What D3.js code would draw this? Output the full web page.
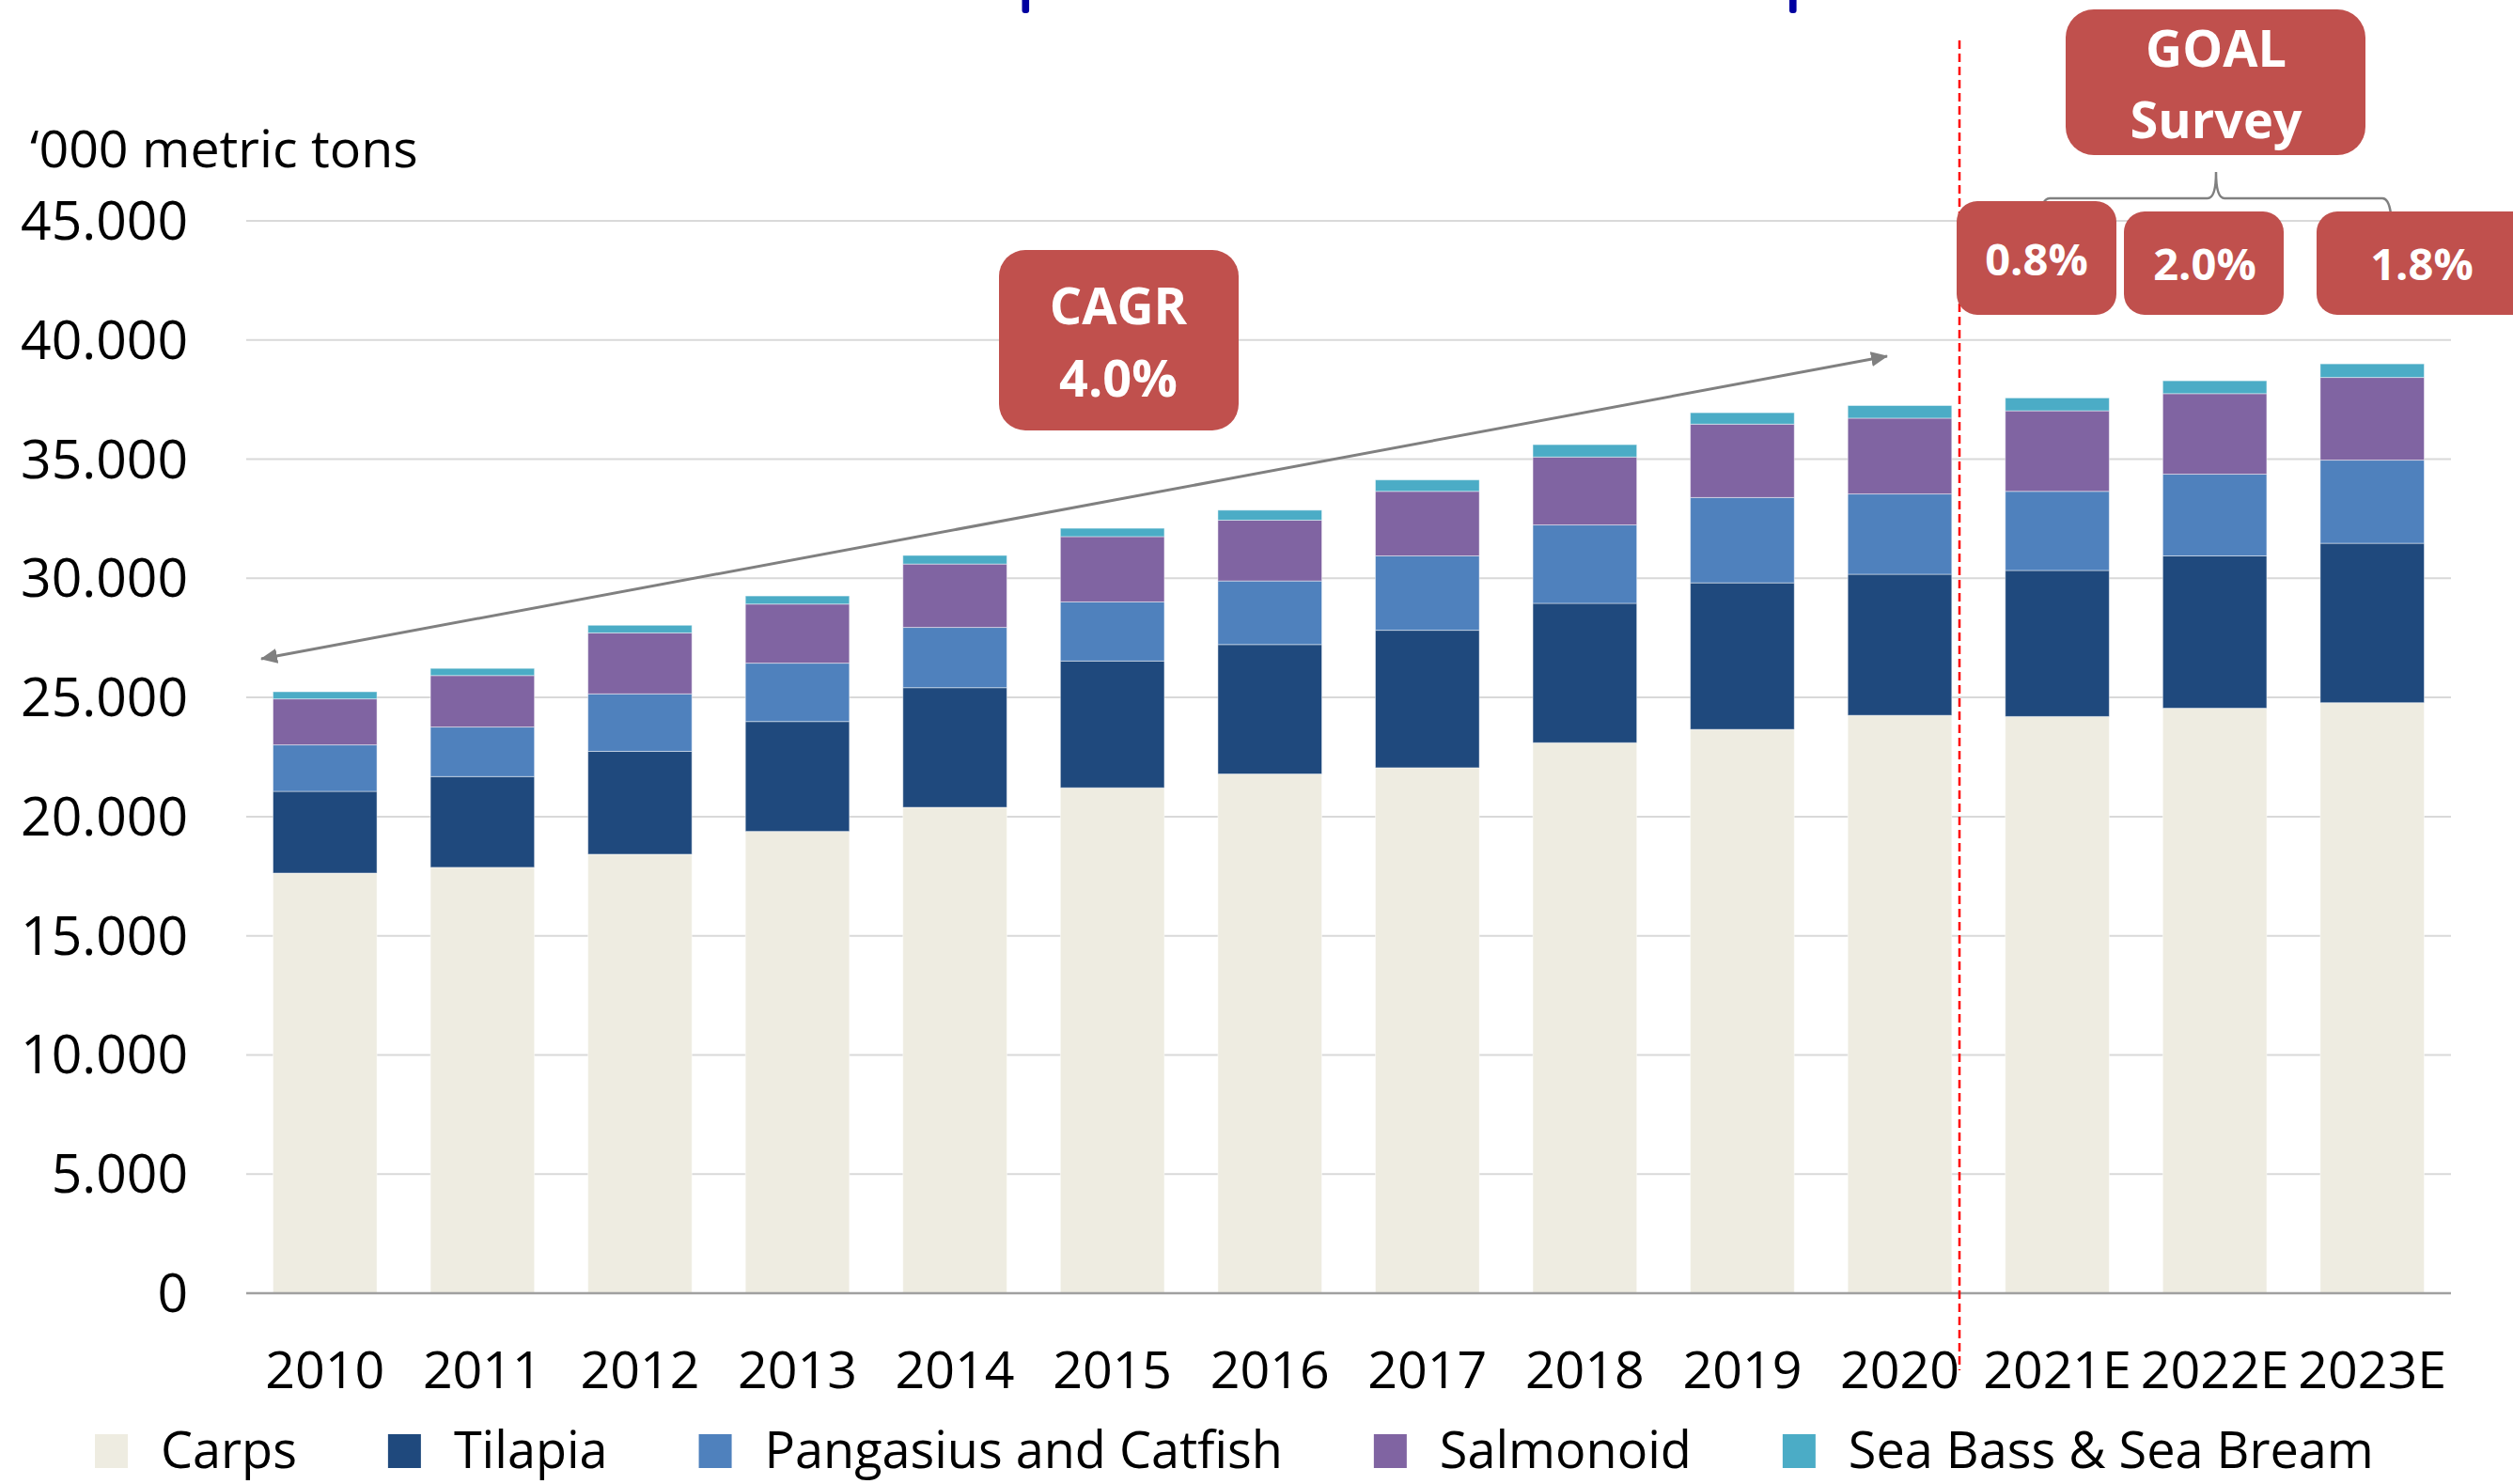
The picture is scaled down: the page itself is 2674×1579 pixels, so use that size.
<!DOCTYPE html>
<html>
<head>
<meta charset="utf-8">
<script src="https://cdn.jsdelivr.net/npm/d3@7"></script>
<style>
html, body { margin: 0; padding: 0; background: #ffffff; }
svg { display: block; }
text { font-family: "Open Sans", "Noto Sans", sans-serif; }
</style>
</head>
<body>
<svg id="chart" width="2674" height="1579"></svg>
<script>
// ---------------- DATA ----------------
const years = ["2010","2011","2012","2013","2014","2015","2016","2017","2018","2019","2020","2021E","2022E","2023E"];
const seriesNames = ["Carps","Tilapia","Pangasius and Catfish","Salmonoid","Sea Bass & Sea Bream"];
const carps     = [17630,17870,18420,19380,20390,21210,21790,22050,23100,23660,24250,24200,24550,24780];
const tilapia   = [3430,3810,4320,4610,5020,5320,5430,5770,5850,6150,5920,6130,6390,6690];
const pangasius = [1950,2080,2410,2450,2530,2480,2670,3120,3290,3580,3370,3320,3430,3490];
const salmonoid = [1930,2160,2560,2480,2660,2740,2550,2710,2850,3080,3180,3380,3380,3470];
const seaBass   = [300,300,320,340,360,350,420,480,520,480,530,540,540,570];
const yTicks = [0,5000,10000,15000,20000,25000,30000,35000,40000,45000];
const yAxisTitle = "\u2018000 metric tons";
const cagrLabel = ["CAGR","4.0%"];
const goalLabel = ["GOAL","Survey"];
const goalRates = ["0.8%","2.0%","1.8%"];

// ---------------- STYLE ----------------
const colors = ["#EEECE1","#1F497D","#4F81BD","#8064A2","#4BACC6"];
const boxRed = "#C0504D";

const svg = d3.select("#chart");
const W = 2674, H = 1579;
svg.append("rect").attr("width", W).attr("height", H).attr("fill", "#fff");

const x = d3.scaleBand().domain(years).range([262, 2608]).paddingInner(0.34).paddingOuter(0.17);
const y = d3.scaleLinear().domain([0, 45000]).range([1376, 235]);

const fmt = d3.formatLocale({decimal: ",", thousands: ".", grouping: [3], currency: ["", ""]}).format(",");

// Gridlines
svg.append("g").selectAll("line").data(yTicks.filter(d => d > 0)).join("line")
  .attr("x1", 262).attr("x2", 2608)
  .attr("y1", d => y(d)).attr("y2", d => y(d))
  .attr("stroke", "#D9D9D9").attr("stroke-width", 2);

// Y tick labels
svg.append("g").selectAll("text").data(yTicks).join("text")
  .attr("x", 200).attr("y", d => y(d) + 20)
  .attr("text-anchor", "end")
  .attr("font-size", 57).attr("fill", "#000")
  .text(d => fmt(d));

// Axis title
svg.append("text").attr("x", 32).attr("y", 178)
  .attr("font-size", 55.5).attr("fill", "#000").text(yAxisTitle);

// Stacked bars
const rows = years.map((yr, i) => ({
  year: yr,
  "Carps": carps[i], "Tilapia": tilapia[i], "Pangasius and Catfish": pangasius[i],
  "Salmonoid": salmonoid[i], "Sea Bass & Sea Bream": seaBass[i]
}));
const stacked = d3.stack().keys(seriesNames)(rows);

svg.append("g").selectAll("g").data(stacked).join("g")
  .attr("fill", (d, i) => colors[i])
  .selectAll("rect").data(d => d).join("rect")
  .attr("x", d => x(d.data.year))
  .attr("width", x.bandwidth())
  .attr("y", d => y(d[1]))
  .attr("height", d => y(d[0]) - y(d[1]))
  .attr("stroke", "rgba(255,255,255,0.45)").attr("stroke-width", 1);

// Baseline
svg.append("line").attr("x1", 262).attr("x2", 2608)
  .attr("y1", y(0)).attr("y2", y(0))
  .attr("stroke", "#A0A0A0").attr("stroke-width", 2.5);

// Year labels
svg.append("g").selectAll("text").data(years).join("text")
  .attr("x", d => x(d) + x.bandwidth() / 2).attr("y", 1477)
  .attr("text-anchor", "middle").attr("font-size", 55.5).attr("fill", "#000")
  .text(d => d);

// Legend
const legend = svg.append("g");
let lx = 101;
seriesNames.forEach((name, i) => {
  legend.append("rect").attr("x", lx).attr("y", 1526).attr("width", 35).attr("height", 36)
    .attr("fill", colors[i]);
  const t = legend.append("text").attr("x", lx + 70).attr("y", 1562)
    .attr("font-size", 54).attr("fill", "#000").text(name);
  lx = lx + 70 + t.node().getComputedTextLength() + 97;
});

// Cut-off title fragments at the top
svg.append("g").selectAll("rect").data([1087.5, 1904]).join("rect")
  .attr("x", d => d).attr("y", -10).attr("width", 7.6).attr("height", 24).attr("rx", 3)
  .attr("fill", "#0000A0");

// Red dashed forecast separator
svg.append("line").attr("x1", 2085).attr("x2", 2085).attr("y1", 43).attr("y2", 1458)
  .attr("stroke", "#FF0000").attr("stroke-width", 2.5).attr("stroke-dasharray", "9,5");

// CAGR arrow
const defs = svg.append("defs");
defs.append("marker").attr("id", "ah")
  .attr("markerUnits", "userSpaceOnUse")
  .attr("viewBox", "0 0 18 16").attr("refX", 17).attr("refY", 8)
  .attr("markerWidth", 18).attr("markerHeight", 16)
  .attr("orient", "auto-start-reverse")
  .append("path").attr("d", "M0,0 L18,8 L0,16 Z").attr("fill", "#808080");
svg.append("line").attr("x1", 278).attr("y1", 701).attr("x2", 2008).attr("y2", 379)
  .attr("stroke", "#808080").attr("stroke-width", 3)
  .attr("marker-start", "url(#ah)").attr("marker-end", "url(#ah)");

// CAGR box
svg.append("rect").attr("x", 1063).attr("y", 266).attr("width", 255).attr("height", 192)
  .attr("rx", 28).attr("fill", boxRed);
svg.append("g").selectAll("text").data(cagrLabel).join("text")
  .attr("x", 1190).attr("y", (d, i) => i === 0 ? 345 : 422)
  .attr("text-anchor", "middle").attr("font-size", 54).attr("font-weight", 700)
  .attr("fill", "#fff").text(d => d);

// GOAL Survey box
svg.append("rect").attr("x", 2198).attr("y", 10).attr("width", 319).attr("height", 155)
  .attr("rx", 30).attr("fill", boxRed);
svg.append("g").selectAll("text").data(goalLabel).join("text")
  .attr("x", 2358).attr("y", (d, i) => i === 0 ? 71 : 147)
  .attr("text-anchor", "middle").attr("font-size", 54).attr("font-weight", 700)
  .attr("fill", "#fff").text(d => d);

// Brace
svg.append("path")
  .attr("d", "M2170,240 Q2171,211 2181,211 L2349,211 Q2358,211 2358,183 Q2358,211 2367,211 L2535,211 Q2544,211 2545,240")
  .attr("fill", "none").attr("stroke", "#808080").attr("stroke-width", 2.5);

// Rate boxes
const rateBoxes = [
  {x0: 2082, x1: 2252, y0: 214, y1: 335, tx: 2167, ty: 293},
  {x0: 2260, x1: 2430, y0: 225, y1: 335, tx: 2346, ty: 298},
  {x0: 2465, x1: 2720, y0: 225, y1: 335, tx: 2577, ty: 298}
];
const rb = svg.append("g").selectAll("g").data(goalRates).join("g");
rb.append("rect")
  .attr("x", (d, i) => rateBoxes[i].x0).attr("y", (d, i) => rateBoxes[i].y0)
  .attr("width", (d, i) => rateBoxes[i].x1 - rateBoxes[i].x0)
  .attr("height", (d, i) => rateBoxes[i].y1 - rateBoxes[i].y0)
  .attr("rx", 22).attr("fill", boxRed);
rb.append("text")
  .attr("x", (d, i) => rateBoxes[i].tx).attr("y", (d, i) => rateBoxes[i].ty)
  .attr("text-anchor", "middle").attr("font-size", 47).attr("font-weight", 700)
  .attr("fill", "#fff").text(d => d);
</script>
</body>
</html>
